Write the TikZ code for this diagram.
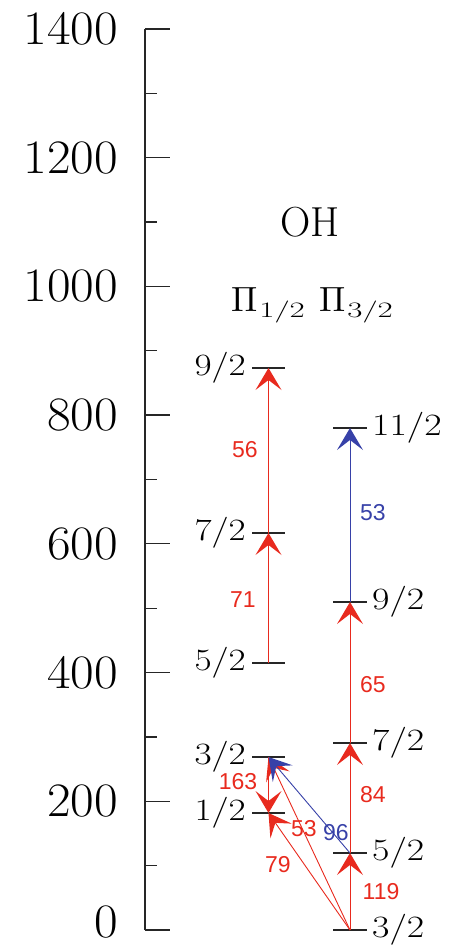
\documentclass[tikz,border=0pt]{standalone}
\usepackage{unicode-math}
\newfontfamily\lblfont{Liberation Sans}
\usetikzlibrary{arrows.meta,calc}
\definecolor{lred}{RGB}{232,42,30}
\definecolor{lblue}{RGB}{55,65,168}
\newcommand{\pisub}[1]{{\fontsize{35}{35}\selectfont$\Pi$}\kern2pt\raisebox{-6pt}{\fontsize{22}{22}\selectfont\scalebox{1.5}[1]{#1}}}
\begin{document}
\begin{tikzpicture}[x=1pt,y=-1pt,
  axis/.style={line width=1.3pt, black!85},
  lvl/.style={line width=1.6pt, black!85},
  tr/.style={line width=0.9pt, -{Stealth[length=22pt,width=26pt,inset=10pt,line width=0pt]}},
  trr/.style={tr, lred},
  trb/.style={tr, lblue},
  ylab/.style={anchor=east, inner sep=0pt, font=\fontsize{48}{48}\selectfont},
  llab/.style={inner sep=0pt, font=\fontsize{31}{31}\selectfont},
  wl/.style={inner sep=0pt, font=\lblfont\fontsize{23}{23}\selectfont},
]
\useasboundingbox (0,0) rectangle (455,946);
% axis
\coordinate (ax0) at (145,930);
\coordinate (ax1) at (145,29);
\draw[axis] (ax0) -- (ax1);
\foreach \k in {0,...,14}{
  \pgfmathsetmacro{\yy}{930-\k*64.36}
  \pgfmathparse{mod(\k,2)==0 ? 170 : 157}\let\xe\pgfmathresult
  \coordinate (t\k) at (145,\yy);
  \draw[axis] (t\k) -- (\xe,\yy);
}
\foreach \k/\v in {2/200,4/400,6/600,8/800,10/1000,12/1200,14/1400}{
  \node[ylab] (yl\k) at (118,930-\k*64.36) {\scalebox{1.07}[1]{\v}};
}
\node[ylab] (yl0) at (118,922) {\scalebox{1.07}[1]{0}};
% titles
\node[inner sep=0pt, font=\fontsize{42}{42}\selectfont] (oh) at (310,222) {OH};
\node[inner sep=0pt, anchor=base west] (p1) at (231,311) {\pisub{1/2}};
\node[inner sep=0pt, anchor=base west] (p3) at (319,311) {\pisub{3/2}};
% levels Pi 1/2
\foreach \n/\y/\t in {a12/813/1,a32/757/3,a52/663/5,a72/533/7,a92/368/9}{
  \coordinate (\n) at (268.5,\y);
  \draw[lvl] ($(\n)+(-16.5,0)$) -- ($(\n)+(16.5,0)$);
  \node[llab, anchor=east] (\n l) at (246,\y) {\scalebox{1.2}[1]{\t/2}};
}
% levels Pi 3/2
\foreach \n/\y/\t in {b32/930/3,b52/853/5,b72/743/7,b92/602/9,b112/428/11}{
  \coordinate (\n) at (350,\y);
  \draw[lvl] ($(\n)+(-17,0)$) -- ($(\n)+(17,0)$);
  \node[llab, anchor=west] (\n l) at (372,\y) {\scalebox{1.22}[1]{\t/2}};
}
% transitions
\draw[trr] (a52) -- (a72);
\draw[trr] (a72) -- (a92);
\draw[trr] (a32) -- (a12);
\draw[trr] (b32) -- (a12);
\draw[trr] (b32) -- (a32);
\draw[trb] (b52) -- (a32);
\draw[trr] (b32) -- (b52);
\draw[trr] (b52) -- (b72);
\draw[trr] (b72) -- (b92);
\draw[trb] (b92) -- (b112);
% wavelength labels
\node[wl, text=lred] (w56) at (245,450) {56};
\node[wl, text=lred] (w71) at (243,600) {71};
\node[wl, text=lblue] (w53b) at (373,513) {53};
\node[wl, text=lred] (w65) at (373,685) {65};
\node[wl, text=lred] (w84) at (373,795) {84};
\node[wl, text=lred] (w119) at (381,892) {119};
\node[wl, text=lred] (w163) at (238,782) {163};
\node[wl, text=lred] (w53r) at (304,829) {53};
\node[wl, text=lblue] (w96) at (336,833) {96};
\node[wl, text=lred] (w79) at (278,865) {79};
\end{tikzpicture}
\end{document}
